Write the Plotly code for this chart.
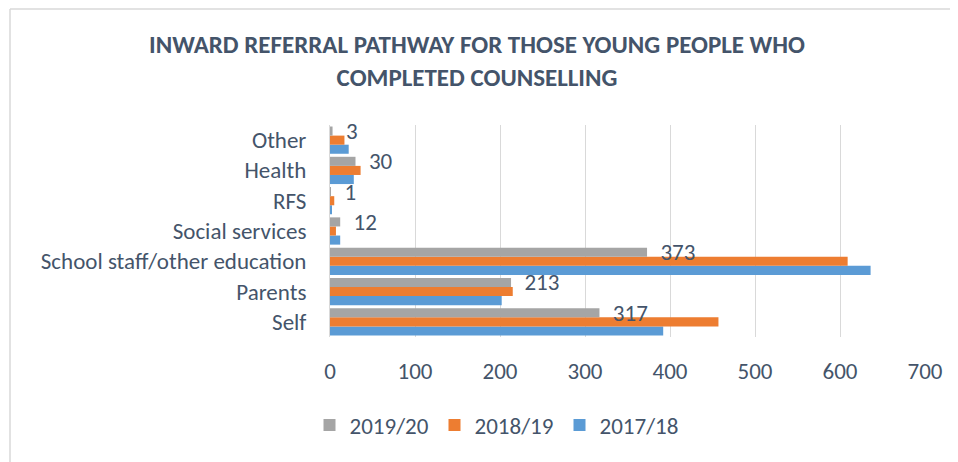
import plotly.graph_objects as go

categories = ["Self", "Parents", "School staff/other education", "Social services", "RFS", "Health", "Other"]
series_names = ["2017/18", "2018/19", "2019/20"]
values_1718 = [392, 202, 636, 12, 2, 28, 22]
values_1819 = [457, 215, 609, 7, 5, 36, 17]
values_1920 = [317, 213, 373, 12, 1, 30, 3]
x_ticks = [0, 100, 200, 300, 400, 500, 600, 700]
title_text = "INWARD REFERRAL PATHWAY FOR THOSE YOUNG PEOPLE WHO<br>COMPLETED COUNSELLING"

colors = {"2017/18": "#5B9BD5", "2018/19": "#ED7D31", "2019/20": "#A5A5A5"}
FONT = "Carlito, Calibri, Lato, sans-serif"
TXT = "#44546A"
FS = 23

# page body has an 8px margin; positions below are in figure coordinates
W, H = 958, 462
PL, PR, PT, PB = 322, 917, 117, 329  # plot area box
pw, ph = PR - PL, PB - PT

fig = go.Figure()
for name, vals in zip(series_names, [values_1718, values_1819, values_1920]):
    kw = {}
    if name == "2019/20":
        kw = dict(text=vals, texttemplate="\u00a0\u00a0%{x}", textposition="outside",
                  constraintext="none",
                  textfont=dict(size=FS, color=TXT, family=FONT), cliponaxis=False)
    fig.add_trace(go.Bar(y=categories, x=vals, name=name, orientation="h",
                         marker=dict(color=colors[name], line=dict(width=0)), **kw))

fig.update_layout(
    width=W, height=H,
    barmode="group", bargap=0.1, bargroupgap=0,
    paper_bgcolor="white", plot_bgcolor="white",
    margin=dict(l=PL, r=W - PR, t=PT, b=H - PB, autoexpand=False),
    font=dict(family=FONT, color=TXT, size=FS),
    title=dict(text="<b>" + title_text + "</b>", x=(477 - 8) / W, xanchor="center",
               y=1 - 45 / H, yanchor="middle", yref="container",
               font=dict(size=25, color=TXT, family=FONT)),
    legend=dict(orientation="h", x=(497 - 8 - PL) / pw, xanchor="center",
                y=-(425 - 8 - PB) / ph, yanchor="middle",
                traceorder="reversed", font=dict(size=FS, color=TXT), itemwidth=30,
                entrywidth=80, bgcolor="rgba(0,0,0,0)"),
    showlegend=True,
    xaxis=dict(range=[0, 700], tickvals=x_ticks, showgrid=True, gridcolor="#D9D9D9",
               gridwidth=1, zeroline=False, showline=False, ticks="",
               tickfont=dict(size=FS, color=TXT), ticklabelstandoff=18),
    yaxis=dict(categoryorder="array", categoryarray=categories, showgrid=False,
               showline=True, linecolor="#D9D9D9", linewidth=1, ticks="",
               tickfont=dict(size=FS, color=TXT), ticklabelstandoff=18),
    shapes=[
        dict(type="line", xref="paper", yref="paper", x0=(2 - PL) / pw, x1=(W - PL) / pw,
             y0=1 + (PT - 1) / ph, y1=1 + (PT - 1) / ph, line=dict(color="#D9D9D9", width=1.5)),
        dict(type="line", xref="paper", yref="paper", x0=(2 - PL) / pw, x1=(2 - PL) / pw,
             y0=1 + (PT - 1) / ph, y1=-(H - PB) / ph, line=dict(color="#D9D9D9", width=1.5)),
    ],
)

fig.write_html("out.html")
